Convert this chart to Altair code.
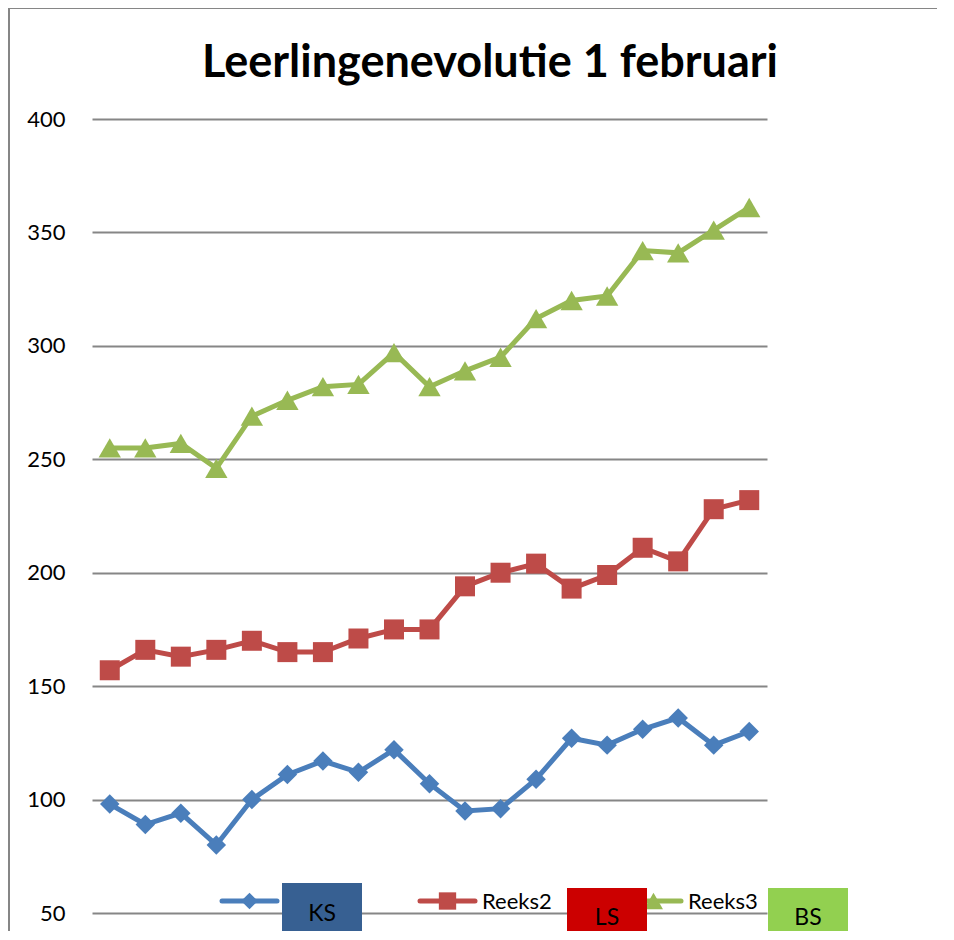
import altair as alt
import pandas as pd

# ---------------- data ----------------
categories = list(range(1, 20))
series_names = ["Reeks1", "Reeks2", "Reeks3"]
reeks1 = [98, 89, 94, 80, 100, 111, 117, 112, 122, 107, 95, 96, 109, 127, 124, 131, 136, 124, 130]
reeks2 = [157, 166, 163, 166, 170, 165, 165, 171, 175, 175, 194, 200, 204, 193, 199, 211, 205, 228, 232]
reeks3 = [255, 255, 257, 246, 269, 276, 282, 283, 297, 282, 289, 295, 312, 320, 322, 342, 341, 351, 361]
y_ticks = [50, 100, 150, 200, 250, 300, 350, 400]
box_labels = ["KS", "LS", "BS"]
# the first legend label is hidden behind the "KS" box in the reference
legend_labels = ["", "Reeks2", "Reeks3"]
title_text = "Leerlingenevolutie 1 februari"

# ---------------- styles ----------------
colors = ["#4A7EBB", "#BE4B48", "#98B954"]
shapes = ["diamond", "square", "triangle-up"]
marker_sizes = [380, 400, 500]
legend_marker_sizes = [280, 300, 360]
box_colors = ["#376092", "#CC0000", "#92D050"]
FONT = "Lato"
W, H = 675, 794

values = [reeks1, reeks2, reeks3]
df = pd.DataFrame(
    [{"cat": c, "value": v, "series": s}
     for s, vals in zip(series_names, values)
     for c, v in zip(categories, vals)]
)

x_enc = alt.X("cat:O", scale=alt.Scale(type="point", padding=0.5), axis=None)
y_enc = alt.Y(
    "value:Q",
    scale=alt.Scale(domain=[50, 400], nice=False, zero=False),
    axis=alt.Axis(
        values=y_ticks, grid=True, domain=False, ticks=False,
        labelPadding=27, labelFontSize=22, labelFont=FONT, labelColor="#000000",
        gridColor="#868686", gridWidth=2, title=None,
    ),
)

layers = []
for name, col, shp, sz in zip(series_names, colors, shapes, marker_sizes):
    sub = alt.Chart(df).transform_filter(alt.datum.series == name)
    layers.append(sub.mark_line(color=col, strokeWidth=5).encode(x=x_enc, y=y_enc))
    layers.append(
        sub.mark_point(filled=True, shape=shp, size=sz, color=col, opacity=1).encode(x=x_enc, y=y_enc)
    )

one = pd.DataFrame({"a": [0]})

# ---------------- title ----------------
layers.append(
    alt.Chart(one).mark_text(
        text=title_text, font=FONT, fontSize=45, fontWeight="bold", color="#000000",
        align="center", baseline="alphabetic",
    ).encode(x=alt.value(398), y=alt.value(-42))
)

# ---------------- legend (manual, Excel style) ----------------
leg_y = 782
leg_x0 = [130, 328, 534]   # start of legend line for each entry
leg_len = 55
for i, (lab, col, shp, lsz) in enumerate(zip(legend_labels, colors, shapes, legend_marker_sizes)):
    x0 = leg_x0[i]
    layers.append(
        alt.Chart(one).mark_rule(color=col, strokeWidth=5, strokeCap="round").encode(
            x=alt.value(x0), x2=alt.value(x0 + leg_len), y=alt.value(leg_y)
        )
    )
    layers.append(
        alt.Chart(one).mark_point(filled=True, shape=shp, size=lsz, color=col, opacity=1).encode(
            x=alt.value(x0 + leg_len / 2), y=alt.value(leg_y)
        )
    )
    if lab:
        layers.append(
            alt.Chart(one).mark_text(
                text=lab, font=FONT, fontSize=22, color="#000000", align="left", baseline="alphabetic"
            ).encode(x=alt.value(x0 + leg_len + 7), y=alt.value(790))
        )

# coloured boxes covering the legend
boxes = [(190, 270, 764), (475, 555, 769), (676, 756, 769)]
text_base = [802, 806, 806]
for (bx0, bx1, by0), lab, bc, tb in zip(boxes, box_labels, box_colors, text_base):
    layers.append(
        alt.Chart(one).mark_rect(color=bc).encode(
            x=alt.value(bx0), x2=alt.value(bx1), y=alt.value(by0), y2=alt.value(830)
        )
    )
    layers.append(
        alt.Chart(one).mark_text(
            text=lab, font=FONT, fontSize=23, color="#000000", align="center", baseline="alphabetic"
        ).encode(x=alt.value((bx0 + bx1) / 2), y=alt.value(tb))
    )

# chart frame (left and top border)
layers.append(
    alt.Chart(one).mark_rule(color="#868686", strokeWidth=2).encode(
        x=alt.value(-83), y=alt.value(-111), y2=alt.value(830)
    )
)
layers.append(
    alt.Chart(one).mark_rule(color="#868686", strokeWidth=2).encode(
        x=alt.value(-83), x2=alt.value(900), y=alt.value(-111)
    )
)

chart = (
    alt.layer(*layers)
    .properties(
        width=W,
        height=H,
        padding={"left": 84, "top": 111, "right": 170, "bottom": 18},
        autosize=alt.AutoSizeParams(type="none"),
    )
    .configure_view(stroke=None)
)

chart.save("out.html", embed_options={"renderer": "svg", "actions": False})
